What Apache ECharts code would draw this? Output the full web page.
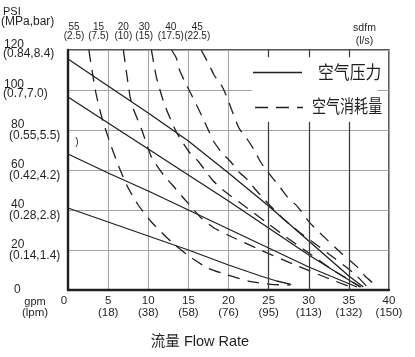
<!DOCTYPE html>
<html>
<head>
<meta charset="utf-8">
<script src="https://cdn.jsdelivr.net/npm/echarts@6/dist/echarts.min.js"></script>
<style>
html,body{margin:0;padding:0;background:#fff;}
#c{width:415px;height:357px;}
</style>
</head>
<body>
<div id="c"></div>
<script>
// ---- tick labels ----
const xTickMain = ['0','5','10','15','20','25','30','35','40'];
const xTickLpm  = ['','(18)','(38)','(58)','(76)','(95)','(113)','(132)','(150)'];
const yTickPsi  = ['0','20','40','60','80','100','120'];
const yTickMpaBar = ['','(0.14,1.4)','(0.28,2.8)','(0.42,4.2)','(0.55,5.5)','(0.7,7.0)','(0.84,8.4)'];
// air consumption labels across the top (scfm / l/s)
const scfmTop = ['55','15','20','30','40','45'];
const lpsTop  = ['(2.5)','(7.5)','(10)','(15)','(17.5)','(22.5)'];
const scfmLabelGpm = [0.75, 3.8, 6.9, 9.5, 12.8, 16.1];

// ---- air pressure curves (solid): [gpm, psi] ----
const pressureA = [[0,115.5],[5,102],[10,88.5],[15,74.5],[20,58.5],[25,42],[30,24.5],[35,7],[36.8,1.5]];
const pressureB = [[0,96.5],[5,83.5],[10,70.5],[15,57.5],[20,44.5],[25,31],[30,17.5],[36.4,1.5]];
const pressureC = [[0,68],[5,58.5],[10,49.5],[15,40],[20,30.5],[25,21],[30,11.5],[36,1.5]];
const pressureD = [[0,41],[5,34],[10,27],[15,20],[20,12.5],[24,7],[26,4.5],[27.8,2.8]];

// ---- air consumption curves (dashed): [gpm, psi] ----
const consumptionA = [[2.6,120],[3.4,100],[4.2,86.5],[5.2,74],[6.3,62],[7.5,51],[8.75,42.5],[10.4,34],[12.9,24],[14.9,17.5],[17.4,11],[19.9,7.5],[22.8,4.2],[25.3,2.8],[27.7,2.5]];
const consumptionB = [[6.9,120],[7.7,97.5],[8.1,91],[9.2,80],[10.4,66.5],[12,57],[12.9,53],[14.5,45.5],[16.6,36],[18.2,31],[19.9,27.5],[24,20],[28.6,12],[32,6.5],[35.5,1]];
const consumptionC = [[10.4,120],[11,106.7],[12,93],[13.5,79],[15.1,69],[16.3,64],[18,55],[19.3,50],[22,42],[24.5,34.5],[27,27],[30,18.5],[33,10],[36.5,1.5]];
const consumptionD = [[12.9,120],[13.5,116],[13.9,110],[14.7,103],[15.4,97.5],[16.2,91],[16.8,86],[17.6,79],[18.2,74],[19.1,69],[20.3,64],[21.3,59],[22.4,55],[23.2,51],[24.3,46],[25.7,40],[27,35],[28.8,29],[30.5,24],[32.5,18],[34.5,12],[36,7],[37.3,1.5]];
const consumptionE = [[16.6,120],[17.6,112.5],[18.2,107.5],[19.1,102.5],[19.7,97.5],[20.5,89],[21.3,81],[22.4,75],[23.2,70],[24,64],[24.9,59],[25.7,55],[26.5,51],[27.3,46.7],[28.6,41.7],[30.2,33.3],[32.1,25.8],[34.1,18.3],[36,11.7],[37,7],[38.3,2.5]];

const INK = '#231f20';
const FONT = "'Liberation Sans', Arial, sans-serif";
const CJK = "'Liberation Sans', 'Noto Sans CJK SC', sans-serif";

const solid = (d) => ({type:'line', data:d, showSymbol:false, symbol:'none', smooth:false,
  lineStyle:{color:INK, width:1.3}, silent:true, z:3});
const dashed = (d) => ({type:'line', data:d, showSymbol:false, symbol:'none', smooth:0.2,
  lineStyle:{color:INK, width:1.3, type:[12,8]}, silent:true, z:3});

const chart = echarts.init(document.getElementById('c'), null, {renderer:'canvas'});

const darkV = [];
[25,30,35].forEach(x => {
  darkV.push([{coord:[x,0]},{coord:[x,84]}]);
  darkV.push([{coord:[x,116.5]},{coord:[x,120]}]);
});

const txt = {fontFamily:FONT, fontSize:12, color:INK, lineHeight:11.5};
const option = {
  animation:false,
  backgroundColor:'#fff',
  grid:{left:66, top:50, width:323, height:240, show:true, borderColor:INK, borderWidth:1.5, backgroundColor:'transparent'},
  xAxis:{
    type:'value', min:0, max:40, interval:5,
    axisLine:{show:true, onZero:false, lineStyle:{color:INK, width:2.4}},
    axisTick:{show:false},
    splitLine:{show:true, lineStyle:{color:'#a3a3a3', width:1.1}},
    axisLabel:{
      margin:5, color:INK, fontFamily:FONT, fontSize:11.5, lineHeight:12,
      formatter:(v)=>{ const i=Math.round(v/5); if(i===0) return '{z|0}'; return xTickMain[i]+'\n'+xTickLpm[i]; },
      rich:{z:{fontFamily:FONT, fontSize:11.5, color:INK, padding:[0,8,0,0]}}
    }
  },
  yAxis:{
    type:'value', min:0, max:120, interval:20,
    axisLine:{show:true, onZero:false, lineStyle:{color:INK, width:2.4}},
    axisTick:{show:false},
    splitLine:{show:true, lineStyle:{color:'#a3a3a3', width:1.1}},
    axisLabel:{
      margin:65, align:'left', color:INK, fontFamily:FONT, fontSize:12,
      formatter:(v)=>{
        const i=Math.round(v/20);
        if(i===0) return '{z|0}';
        if(i>=5) return '{n3|'+yTickPsi[i]+'}\n{q|'+yTickMpaBar[i]+'}';
        return '{n2|'+yTickPsi[i]+'}\n{p|'+yTickMpaBar[i]+'}';
      },
      rich:{
        n3:Object.assign({padding:[0,0,0,1]}, txt),
        n2:Object.assign({padding:[0,0,0,8]}, txt),
        z:Object.assign({padding:[0,0,0,11]}, txt, {lineHeight:12}),
        p:Object.assign({padding:[0,0,0,6]}, txt),
        q:Object.assign({padding:[0,0,5,0]}, txt)
      }
    }
  },
  series:[
    Object.assign(solid(pressureA), {markLine:{silent:true, symbol:'none', label:{show:false},
      lineStyle:{type:'solid', color:'#3a3a3a', width:1.2}, data:darkV}}),
    solid(pressureB), solid(pressureC), solid(pressureD),
    dashed(consumptionA), dashed(consumptionB), dashed(consumptionC), dashed(consumptionD), dashed(consumptionE)
  ]
};
chart.setOption(option);

const g = [];
// legend backdrop hides grid lines behind legend
g.push({type:'rect', shape:{x:252, y:57.5, width:125.5, height:64}, style:{fill:'#fff'}, z:1, silent:true});
g.push({type:'line', shape:{x1:253, y1:72.5, x2:302, y2:72.5}, style:{stroke:INK, lineWidth:1.3}, z:5});
g.push({type:'line', shape:{x1:255, y1:107.5, x2:303, y2:107.5}, style:{stroke:INK, lineWidth:1.3, lineDash:[13,8]}, z:5});
g.push({type:'text', x:318, y:72, scaleX:0.88, style:{text:'空气压力', font:"18px 'Noto Sans CJK SC'", fill:INK, textAlign:'left', textVerticalAlign:'middle'}, z:5});
g.push({type:'text', x:312, y:106, scaleX:0.78, style:{text:'空气消耗量', font:"18px 'Noto Sans CJK SC'", fill:INK, textAlign:'left', textVerticalAlign:'middle'}, z:5});

// top labels
scfmTop.forEach((t,i)=>{
  const px = chart.convertToPixel({xAxisIndex:0}, scfmLabelGpm[i]);
  g.push({type:'text', x:px, y:27, style:{text:t, font:'10px '+FONT, fill:INK, textAlign:'center', textVerticalAlign:'middle'}, z:5});
  g.push({type:'text', x:px, y:36, style:{text:lpsTop[i], font:'10px '+FONT, fill:INK, textAlign:'center', textVerticalAlign:'middle'}, z:5});
});
g.push({type:'text', x:364.5, y:28.5, style:{text:'sdfm', font:'10.5px '+FONT, fill:INK, textAlign:'center', textVerticalAlign:'middle'}, z:5});
g.push({type:'text', x:364.5, y:41, style:{text:'(l/s)', font:'10.5px '+FONT, fill:INK, textAlign:'center', textVerticalAlign:'middle'}, z:5});
// axis titles
g.push({type:'text', x:3, y:12, style:{text:'PSI', font:'11px '+FONT, fill:INK, textAlign:'left', textVerticalAlign:'middle'}, z:5});
g.push({type:'text', x:1, y:22, style:{text:'(MPa,bar)', font:'12px '+FONT, fill:INK, textAlign:'left', textVerticalAlign:'middle'}, z:5});
g.push({type:'text', x:35, y:301.5, style:{text:'gpm', font:'11px '+FONT, fill:INK, textAlign:'center', textVerticalAlign:'middle'}, z:5});
g.push({type:'text', x:35, y:313, style:{text:'(lpm)', font:'11.5px '+FONT, fill:INK, textAlign:'center', textVerticalAlign:'middle'}, z:5});
g.push({type:'text', x:200, y:342, style:{text:'流量 Flow Rate', font:'14.5px '+CJK, fill:INK, textAlign:'center', textVerticalAlign:'middle'}, z:5});
// small stray mark in the original
g.push({type:'text', x:77, y:142, style:{text:')', font:'10px '+FONT, fill:INK, textAlign:'center', textVerticalAlign:'middle'}, z:5});

chart.setOption({graphic:{elements:g}});
</script>
</body>
</html>
